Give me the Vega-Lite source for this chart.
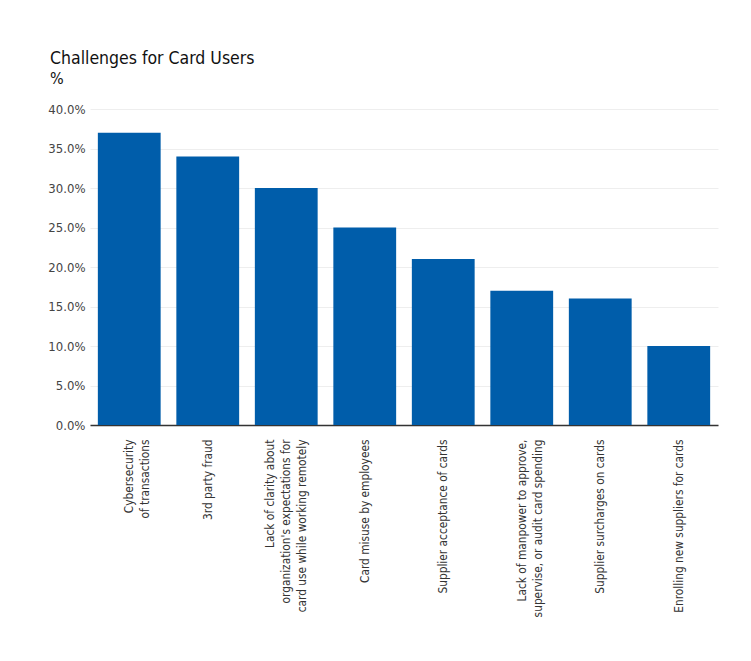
{
  "$schema": "https://vega.github.io/schema/vega-lite/v6.json",
  "autosize": {"type": "none"},
  "width": 628,
  "height": 316,
  "padding": {"left": 90, "top": 109, "right": 33, "bottom": 236},
  "background": "white",
  "title": {
    "text": "Challenges for Card Users",
    "subtitle": "%",
    "anchor": "start",
    "frame": "group",
    "dx": -40,
    "offset": 16,
    "font": "DejaVu Sans Condensed, Roboto Condensed, Roboto, sans-serif",
    "fontSize": 17.5,
    "fontWeight": "normal",
    "color": "#111111",
    "subtitleFont": "DejaVu Sans Condensed, Roboto Condensed, Roboto, sans-serif",
    "subtitleFontSize": 16,
    "subtitleColor": "#111111",
    "subtitlePadding": 4
  },
  "data": {
    "values": [
      {"challenge": "Cybersecurity|of transactions", "share": 0.37},
      {"challenge": "3rd party fraud", "share": 0.34},
      {"challenge": "Lack of clarity about|organization's expectations for|card use while working remotely", "share": 0.30},
      {"challenge": "Card misuse by employees", "share": 0.25},
      {"challenge": "Supplier acceptance of cards", "share": 0.21},
      {"challenge": "Lack of manpower to approve,|supervise, or audit card spending", "share": 0.17},
      {"challenge": "Supplier surcharges on cards", "share": 0.16},
      {"challenge": "Enrolling new suppliers for cards", "share": 0.10}
    ]
  },
  "mark": {"type": "bar", "color": "#005DAA"},
  "encoding": {
    "x": {
      "field": "challenge",
      "type": "nominal",
      "sort": null,
      "scale": {"paddingInner": 0.2, "paddingOuter": 0.1},
      "axis": {
        "title": null,
        "labelAngle": -90,
        "labelAlign": "right",
        "labelBaseline": "middle",
        "labelPadding": 14,
        "labelExpr": "split(datum.label, '|')",
        "labelOffset": {"expr": "indexof(datum.value, 'Lack of clarity') == 0 ? -16 : 0"},
        "labelLineHeight": 16,
        "labelFont": "DejaVu Sans Condensed, Roboto Condensed, Roboto, sans-serif",
        "labelFontSize": 11.8,
        "labelColor": "#333333",
        "labelLimit": 300,
        "ticks": false,
        "domainColor": "#333333",
        "domainWidth": 1.5
      }
    },
    "y": {
      "field": "share",
      "type": "quantitative",
      "scale": {"domain": [0, 0.4]},
      "axis": {
        "title": null,
        "format": ".1%",
        "values": [0, 0.05, 0.1, 0.15, 0.2, 0.25, 0.3, 0.35, 0.4],
        "labelOverlap": false,
        "domain": false,
        "ticks": false,
        "labelPadding": 5,
        "labelFont": "DejaVu Sans Condensed, Roboto Condensed, Roboto, sans-serif",
        "labelFontSize": 13,
        "labelColor": "#444444",
        "gridColor": "#eeeeee",
        "gridWidth": 1
      }
    }
  },
  "config": {"view": {"stroke": null}}
}
